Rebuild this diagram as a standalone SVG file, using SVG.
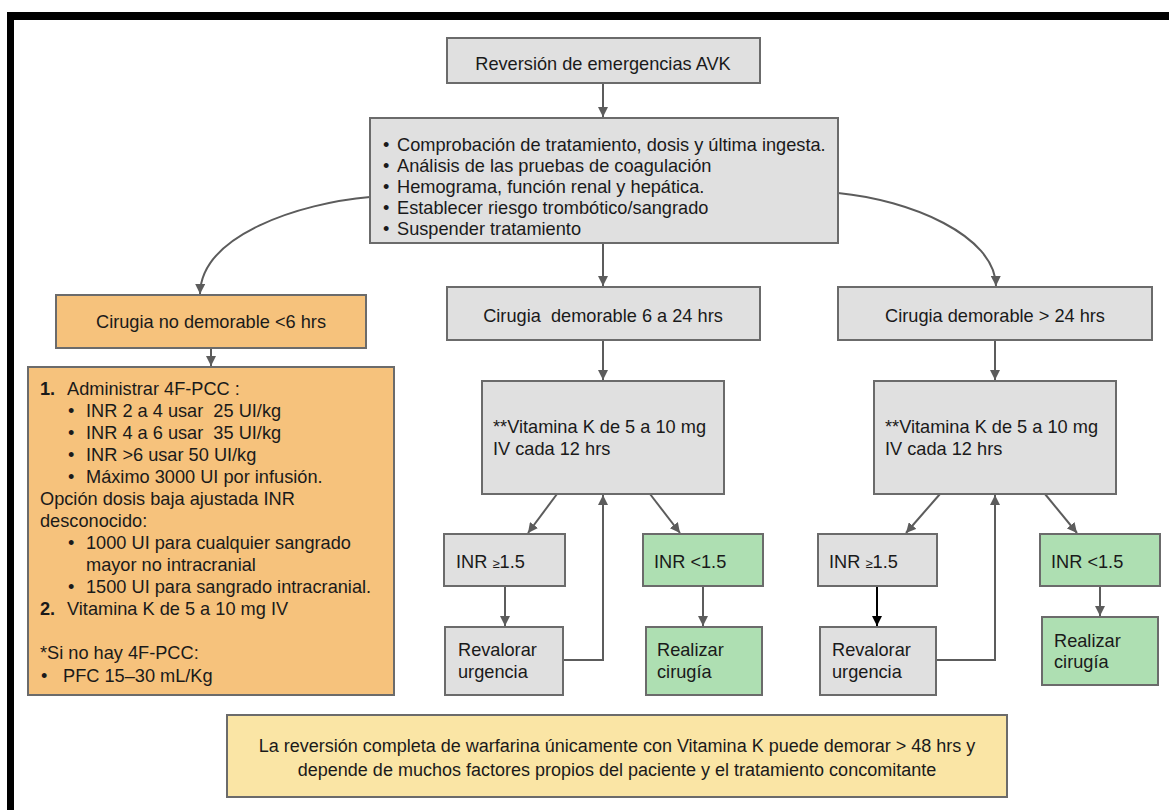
<svg xmlns="http://www.w3.org/2000/svg" width="1169" height="810" viewBox="0 0 1169 810">
  <style>
    text { font-family: "Liberation Sans", Arial, sans-serif; font-size: 18.2px; fill: #1a1a1a; white-space: pre; }
    .gray { fill: #e0e0e0; stroke: #6b6b6b; stroke-width: 2; }
    .orange { fill: #f6c27c; stroke: #6b6b6b; stroke-width: 2; }
    .green { fill: #aedfb2; stroke: #6b6b6b; stroke-width: 2; }
    .yellow { fill: #fae5a5; stroke: #6b6b6b; stroke-width: 2; }
    .conn { fill: none; stroke: #5c5c5c; stroke-width: 2; }
    .conn-dark { fill: none; stroke: #000; stroke-width: 2; }
    .mid { text-anchor: middle; }
    .small { font-size: 13px; }
    .b { font-weight: bold; }
    .note { font-size: 18px; }
  </style>
  <defs>
    <marker id="arrow" viewBox="0 0 10 10" refX="10" refY="5" markerWidth="5" markerHeight="5" orient="auto" markerUnits="strokeWidth">
      <path d="M0,0 L10,5 L0,10 z" fill="#5c5c5c"/>
    </marker>
    <marker id="arrow-dark" viewBox="0 0 10 10" refX="10" refY="5" markerWidth="5" markerHeight="5" orient="auto" markerUnits="strokeWidth">
      <path d="M0,0 L10,5 L0,10 z" fill="#000"/>
    </marker>
  </defs>

  <!-- page frame -->
  <g id="frame">
    <rect x="7" y="12" width="1162" height="8" fill="#000"/>
    <rect x="7" y="12" width="7" height="798" fill="#000"/>
  </g>

  <!-- connectors -->
  <g id="connectors">
    <path class="conn" d="M603 83 V117" marker-end="url(#arrow)"/>
    <path class="conn" d="M370 197 C300 203 201 235 200 294" marker-end="url(#arrow)"/>
    <path class="conn" d="M838 193 C910 200 995 235 996 286" marker-end="url(#arrow)"/>
    <path class="conn" d="M603 243 V286" marker-end="url(#arrow)"/>
    <path class="conn" d="M211 348 V366" marker-end="url(#arrow)"/>
    <path class="conn" d="M603 340 V380" marker-end="url(#arrow)"/>
    <path class="conn" d="M995 340 V380" marker-end="url(#arrow)"/>
    <!-- middle column -->
    <path class="conn" d="M557 494 L528 533" marker-end="url(#arrow)"/>
    <path class="conn" d="M650 494 L680 533" marker-end="url(#arrow)"/>
    <path class="conn" d="M505 586 V626" marker-end="url(#arrow)"/>
    <path class="conn" d="M703 586 V626" marker-end="url(#arrow)"/>
    <path class="conn" d="M563 660 H603 V495" marker-end="url(#arrow)"/>
    <!-- right column -->
    <path class="conn" d="M940 494 L906 533" marker-end="url(#arrow)"/>
    <path class="conn" d="M1045 494 L1077 533" marker-end="url(#arrow)"/>
    <path class="conn-dark" d="M877 586 V626" marker-end="url(#arrow-dark)"/>
    <path class="conn" d="M1100 586 V616" marker-end="url(#arrow)"/>
    <path class="conn" d="M936 660 H995 V495" marker-end="url(#arrow)"/>
  </g>

  <g id="start">
    <rect class="gray" x="447" y="38" width="313" height="45"/>
    <text class="mid" x="603" y="70">Reversión de emergencias AVK</text>
  </g>

  <g id="checks">
    <rect class="gray" x="370" y="118" width="468" height="125"/>
    <text x="383" y="151">•</text><text x="397" y="151">Comprobación de tratamiento, dosis y última ingesta.</text>
    <text x="383" y="172">•</text><text x="397" y="172">Análisis de las pruebas de coagulación</text>
    <text x="383" y="193">•</text><text x="397" y="193">Hemograma, función renal y hepática.</text>
    <text x="383" y="214">•</text><text x="397" y="214">Establecer riesgo trombótico/sangrado</text>
    <text x="383" y="235">•</text><text x="397" y="235">Suspender tratamiento</text>
  </g>

  <g id="urgent">
    <rect class="orange" x="56" y="295" width="310" height="53"/>
    <text class="mid" x="211" y="328">Cirugia no demorable &lt;6 hrs</text>
  </g>

  <g id="urgent-plan">
    <rect class="orange" x="28" y="367" width="366" height="328"/>
    <text x="40" y="395"><tspan class="b">1.</tspan></text><text x="67" y="395">Administrar 4F-PCC :</text>
    <text x="68" y="417">•</text><text x="86" y="417" xml:space="preserve">INR 2 a 4 usar  25 UI/kg</text>
    <text x="68" y="439">•</text><text x="86" y="439" xml:space="preserve">INR 4 a 6 usar  35 UI/kg</text>
    <text x="68" y="461">•</text><text x="86" y="461">INR &gt;6 usar 50 UI/kg</text>
    <text x="68" y="483">•</text><text x="86" y="483">Máximo 3000 UI por infusión.</text>
    <text x="40" y="505">Opción dosis baja ajustada INR</text>
    <text x="40" y="527">desconocido:</text>
    <text x="68" y="549">•</text><text x="86" y="549">1000 UI para cualquier sangrado</text>
    <text x="86" y="571">mayor no intracranial</text>
    <text x="68" y="593">•</text><text x="86" y="593">1500 UI para sangrado intracranial.</text>
    <text x="40" y="615"><tspan class="b">2.</tspan></text><text x="67" y="615">Vitamina K de 5 a 10 mg IV</text>
    <text x="40" y="659">*Si no hay 4F-PCC:</text>
    <text x="41" y="682">•</text><text x="63" y="682">PFC 15–30 mL/Kg</text>
  </g>

  <g id="delay-6-24">
    <rect class="gray" x="447" y="287" width="313" height="53"/>
    <text class="mid" x="603" y="322" xml:space="preserve">Cirugia  demorable 6 a 24 hrs</text>
  </g>

  <g id="delay-24">
    <rect class="gray" x="838" y="287" width="314" height="53"/>
    <text class="mid" x="995" y="322">Cirugia demorable &gt; 24 hrs</text>
  </g>

  <g id="vitk-mid">
    <rect class="gray" x="482" y="381" width="242" height="113"/>
    <text x="493" y="433">**Vitamina K de 5 a 10 mg</text>
    <text x="493" y="455">IV cada 12 hrs</text>
  </g>

  <g id="inr-high-mid">
    <rect class="gray" x="444" y="534" width="121" height="52"/>
    <text x="456" y="568">INR <tspan class="small">≥</tspan>1.5</text>
  </g>

  <g id="inr-low-mid">
    <rect class="green" x="643" y="534" width="120" height="52"/>
    <text x="654" y="568">INR &lt;1.5</text>
  </g>

  <g id="reassess-mid">
    <rect class="gray" x="445" y="627" width="118" height="68"/>
    <text x="458" y="656">Revalorar</text>
    <text x="458" y="678">urgencia</text>
  </g>

  <g id="surgery-mid">
    <rect class="green" x="646" y="627" width="116" height="68"/>
    <text x="657" y="656">Realizar</text>
    <text x="657" y="678">cirugía</text>
  </g>

  <g id="vitk-right">
    <rect class="gray" x="874" y="381" width="242" height="113"/>
    <text x="885" y="433">**Vitamina K de 5 a 10 mg</text>
    <text x="885" y="455">IV cada 12 hrs</text>
  </g>

  <g id="inr-high-right">
    <rect class="gray" x="818" y="534" width="119" height="52"/>
    <text x="829" y="568">INR <tspan class="small">≥</tspan>1.5</text>
  </g>

  <g id="inr-low-right">
    <rect class="green" x="1040" y="534" width="120" height="52"/>
    <text x="1051" y="568">INR &lt;1.5</text>
  </g>

  <g id="reassess-right">
    <rect class="gray" x="820" y="627" width="116" height="68"/>
    <text x="832" y="656">Revalorar</text>
    <text x="832" y="678">urgencia</text>
  </g>

  <g id="surgery-right">
    <rect class="green" x="1042" y="617" width="116" height="68"/>
    <text x="1054" y="647">Realizar</text>
    <text x="1054" y="668">cirugía</text>
  </g>

  <g id="note">
    <rect class="yellow" x="227" y="715" width="780" height="82"/>
    <text class="mid note" x="617" y="752">La reversión completa de warfarina únicamente con Vitamina K puede demorar &gt; 48 hrs y</text>
    <text class="mid note" x="617" y="776">depende de muchos factores propios del paciente y el tratamiento concomitante</text>
  </g>
</svg>
